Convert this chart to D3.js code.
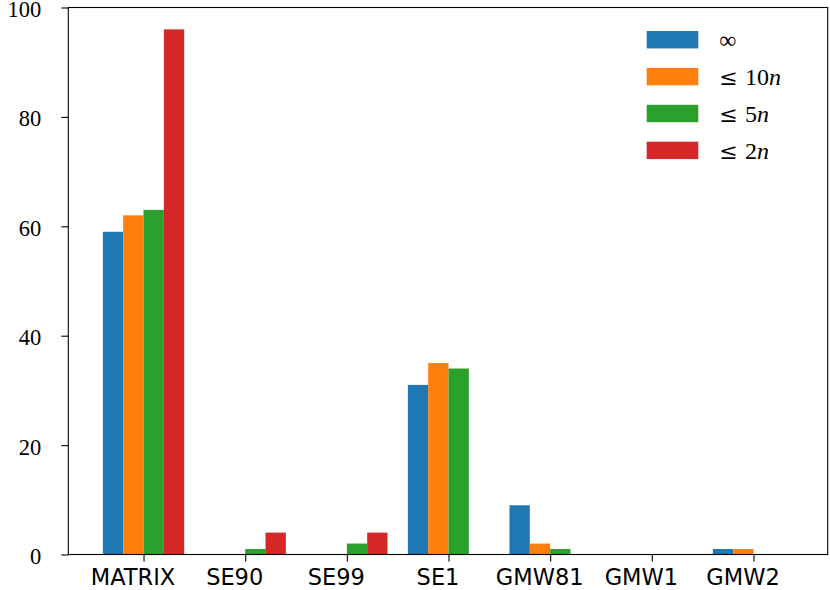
<!DOCTYPE html>
<html><head><meta charset="utf-8">
<script src="https://cdn.jsdelivr.net/npm/d3@7"></script>
<style>body{margin:0;background:#fff}</style>
</head><body>
<svg id="c" width="830" height="590"></svg>
<script>
const categories = ["MATRIX","SE90","SE99","SE1","GMW81","GMW1","GMW2"];
const seriesNames = ["∞","10n","5n","2n"];
const sInf  = [59, 0, 0, 31, 9, 0, 1];
const s10n  = [62, 0, 0, 35, 2, 0, 1];
const s5n   = [63, 1, 2, 34, 1, 0, 0];
const s2n   = [96, 4, 4, 0, 0, 0, 0];
const yTicks = [0, 20, 40, 60, 80, 100];
const colors = ["#1f77b4","#ff7f0e","#2ca02c","#d62728"];
const series = [sInf, s10n, s5n, s2n];

const svg = d3.select("#c");
const L = 68.3, R = 827.7, T = 7.5, B = 554.5;
const x = d3.scaleLinear().domain([-0.74, 6.73]).range([L, R]);
const y = d3.scaleLinear().domain([0, 100]).range([B, T]);
const bw = 0.2;
const serif = "'Liberation Serif', 'DejaVu Serif', serif";

series.forEach((vals, j) => {
  svg.append("g").selectAll("rect").data(vals).join("rect")
    .attr("x", (d, i) => x(i + (j - 2) * bw))
    .attr("width", (d, i) => x(i + (j - 1) * bw) - x(i + (j - 2) * bw))
    .attr("y", d => y(d))
    .attr("height", d => y(0) - y(d))
    .attr("fill", colors[j]);
});

// axes
const yAxis = d3.axisLeft(y).tickValues(yTicks).tickSize(7).tickPadding(20).tickFormat(d3.format("d"));
const gy = svg.append("g").attr("transform", `translate(${L},0)`).call(yAxis);
gy.select(".domain").remove();
gy.selectAll("line").attr("stroke", "#000").attr("stroke-width", 1.1);
gy.selectAll("text").attr("font-family", serif).attr("font-size", 22.5).attr("fill", "#000").attr("dy", "0.4em");

const xAxis = d3.axisBottom(x).tickValues(d3.range(categories.length)).tickFormat(i => categories[i]).tickSize(7).tickPadding(8);
const gx = svg.append("g").attr("transform", `translate(0,${B})`).call(xAxis);
gx.select(".domain").remove();
gx.selectAll("line").attr("stroke", "#000").attr("stroke-width", 1.1);
gx.selectAll("text").attr("font-family", "'DejaVu Sans', sans-serif").attr("font-size", 22.5).attr("fill", "#000").attr("dy", "0.71em").attr("dx", -11);

// frame
svg.append("rect").attr("x", L).attr("y", T).attr("width", R - L).attr("height", B - T)
  .attr("fill", "none").attr("stroke", "#000").attr("stroke-width", 1.1);

// legend
const lg = svg.append("g").attr("transform", "translate(646.7,31)");
seriesNames.forEach((name, j) => {
  const g = lg.append("g").attr("transform", `translate(0,${j * 36.9})`);
  g.append("rect").attr("width", 51.6).attr("height", 17.4).attr("fill", colors[j]);
  const t = g.append("text").attr("y", 8.7).attr("dy", "0.35em")
    .attr("font-family", serif).attr("font-size", 24).attr("fill", "#000");
  if (j === 0) {
    t.append("tspan").attr("x", 72.6).text(name);
  } else {
    t.append("tspan").attr("x", 72.6).attr("font-family", "'DejaVu Serif', serif").attr("font-size", 22).text("≤");
    const m = name.match(/^(\d+)(n)$/);
    t.append("tspan").attr("x", 98.3).text(m[1]);
    t.append("tspan").attr("font-style", "italic").text(m[2]);
  }
});
</script>
</body></html>
